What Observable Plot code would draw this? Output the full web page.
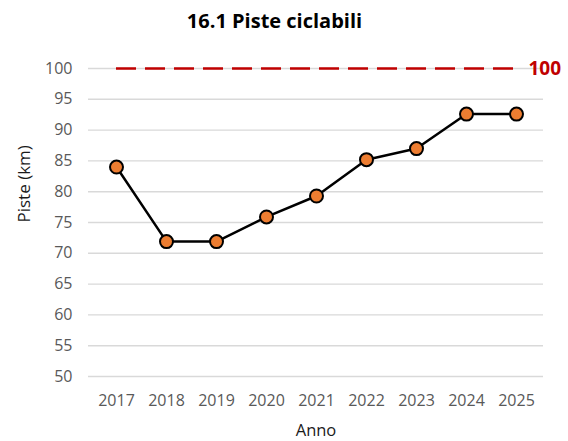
<!DOCTYPE html>
<html><head><meta charset="utf-8">
<script src="https://cdn.jsdelivr.net/npm/d3@7"></script>
<script src="https://cdn.jsdelivr.net/npm/@observablehq/plot@0.6"></script>
<style>
body{margin:0;background:#fff;font-family:"Open Sans",sans-serif;overflow:hidden;}
#title{height:36px;line-height:42px;text-align:center;font-weight:bold;font-size:20px;color:#000;width:568px;padding-right:19px;box-sizing:border-box;overflow:visible;}
#chart svg{display:block;}
</style></head><body>
<div id="title">16.1 Piste ciclabili</div>
<div id="chart"></div>
<script>
const years = ["2017","2018","2019","2020","2021","2022","2023","2024","2025"];
const values = [84, 71.9, 71.9, 75.9, 79.3, 85.2, 87, 92.6, 92.6];
const target = 100;
const yTicks = [50,55,60,65,70,75,80,85,90,95,100];
const xLabel = "Anno";
const yLabel = "Piste (km)";

const data = years.map((y,i)=>({year:y, value:values[i]}));
const firstYear = years[0], lastYear = years[years.length-1];

const chart = Plot.plot({
  width:568, height:405,
  marginLeft:88, marginRight:25, marginTop:32, marginBottom:65,
  style:{fontFamily:"Open Sans, sans-serif", color:"#595959", overflow:"visible"},
  x:{type:"point", domain:years, padding:0.5},
  y:{domain:[50,100]},
  marks:[
    Plot.gridY(yTicks, {stroke:"#d9d9d9", strokeOpacity:1, strokeWidth:1.4}),
    Plot.axisX({tickSize:0, tickPadding:18, fill:"#595959", fontSize:16, label:null}),
    Plot.axisY(yTicks, {tickSize:0, tickPadding:16, fill:"#595959", fontSize:16, label:null}),
    Plot.text([xLabel], {frameAnchor:"bottom", dy:54, lineAnchor:"middle", fill:"#1a1a1a", fontSize:16.5}),
    Plot.text([yLabel], {frameAnchor:"left", dx:-64, rotate:-90, lineAnchor:"middle", fill:"#1a1a1a", fontSize:17}),
    Plot.ruleY([target], {x1:()=>firstYear, x2:()=>lastYear, y:d=>d, stroke:"#c00000", strokeWidth:2.5, strokeDasharray:"20,9"}),
    Plot.text([target], {x:()=>lastYear, y:d=>d, text:d=>String(d), dx:12, textAnchor:"start", lineAnchor:"middle", fill:"#c00000", fontWeight:"bold", fontSize:19}),
    Plot.line(data, {x:"year", y:"value", stroke:"#000", strokeWidth:2.5}),
    Plot.dot(data, {x:"year", y:"value", r:6.5, fill:"#ed7d31", stroke:"#000", strokeWidth:2, symbol:"circle"})
  ]
});
document.getElementById("chart").appendChild(chart);
</script>
</body></html>
